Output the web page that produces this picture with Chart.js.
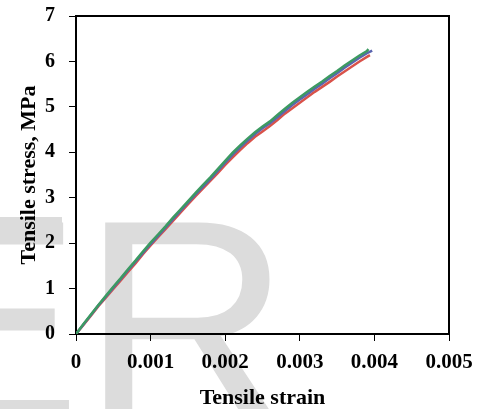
<!DOCTYPE html>
<html>
<head>
<meta charset="utf-8">
<script src="https://cdn.jsdelivr.net/npm/chart.js@4.4.1/dist/chart.umd.min.js"></script>
<style>
html,body{margin:0;padding:0;background:#fff;}
#wrap{width:481px;height:409px;position:relative;}
</style>
</head>
<body>
<div id="wrap"><canvas id="c" width="481" height="409"></canvas></div>
<script>
// Data
const xTickLabels = ['0','0.001','0.002','0.003','0.004','0.005'];
const yTickLabels = ['0','1','2','3','4','5','6','7'];

const greenStrain = [0,0.0001,0.0002,0.0003,0.0004,0.0005,0.0006,0.0007,0.0008,0.0009,0.001,0.0011,0.0012,0.0013,0.0014,0.0015,0.0016,0.0017,0.0018,0.0019,0.002,0.0021,0.0022,0.0023,0.0024,0.0025,0.0026,0.0027,0.0028,0.0029,0.003,0.0031,0.0032,0.0033,0.0034,0.0035,0.0036,0.0037,0.0038,0.0039,0.00392];
const greenStress = [0,0.22,0.43,0.64,0.84,1.04,1.23,1.43,1.62,1.82,2.01,2.19,2.37,2.56,2.74,2.92,3.10,3.28,3.45,3.63,3.81,3.99,4.15,4.30,4.44,4.57,4.68,4.82,4.96,5.09,5.21,5.33,5.45,5.56,5.68,5.79,5.91,6.02,6.13,6.23,6.27];

const redStrain = [0,0.0001,0.0002,0.0003,0.0004,0.0005,0.0006,0.0007,0.0008,0.0009,0.001,0.0011,0.0012,0.0013,0.0014,0.0015,0.0016,0.0017,0.0018,0.0019,0.002,0.0021,0.0022,0.0023,0.0024,0.0025,0.0026,0.0027,0.0028,0.0029,0.003,0.0031,0.0032,0.0033,0.0034,0.0035,0.0036,0.0037,0.0038,0.0039,0.00394];
const redStress = [0,0.20,0.40,0.61,0.80,0.99,1.18,1.37,1.56,1.76,1.95,2.13,2.31,2.49,2.67,2.85,3.03,3.20,3.37,3.54,3.72,3.89,4.05,4.20,4.34,4.46,4.58,4.71,4.85,4.97,5.09,5.21,5.33,5.44,5.55,5.67,5.78,5.89,6.00,6.10,6.14];

const blueStrain = [0,0.0001,0.0002,0.0003,0.0004,0.0005,0.0006,0.0007,0.0008,0.0009,0.001,0.0011,0.0012,0.0013,0.0014,0.0015,0.0016,0.0017,0.0018,0.0019,0.002,0.0021,0.0022,0.0023,0.0024,0.0025,0.0026,0.0027,0.0028,0.0029,0.003,0.0031,0.0032,0.0033,0.0034,0.0035,0.0036,0.0037,0.0038,0.0039,0.00397];
const blueStress = [0,0.21,0.42,0.63,0.82,1.02,1.21,1.41,1.60,1.79,1.98,2.16,2.34,2.53,2.71,2.89,3.07,3.24,3.41,3.59,3.77,3.95,4.11,4.26,4.40,4.53,4.64,4.77,4.91,5.04,5.16,5.28,5.40,5.51,5.63,5.74,5.86,5.97,6.08,6.18,6.24];

function pts(xs, ys){ return xs.map((x,i)=>({x:x,y:ys[i]})); }

const bgPlugin = {
  id:'bg',
  beforeDraw(chart){
    const ctx = chart.ctx;
    ctx.save();
    ctx.fillStyle = '#ffffff';
    ctx.fillRect(0,0,chart.width,chart.height);
    ctx.fillStyle = '#dcdcdc';
    ctx.font = "290px 'Liberation Sans', Arial, sans-serif";
    ctx.textBaseline = 'alphabetic';
    ctx.textAlign = 'left';
    ctx.fillText('ER', -112, 422);
    // top arm of the partially visible watermark letter
    ctx.fillRect(0, 217, 62, 24);
    ctx.restore();
  }
};
const framePlugin = {
  id:'frame',
  afterDatasetsDraw(chart){
    const a = chart.chartArea, ctx = chart.ctx;
    ctx.save();
    ctx.strokeStyle = '#000';
    ctx.lineWidth = 2;
    ctx.beginPath();
    ctx.moveTo(a.left, a.top);
    ctx.lineTo(a.right, a.top);
    ctx.lineTo(a.right, a.bottom);
    ctx.stroke();
    ctx.restore();
  }
};

const serif = "'Liberation Serif', 'Times New Roman', serif";

new Chart(document.getElementById('c'), {
  type:'line',
  data:{
    datasets:[
      {label:'S3', data:pts(greenStrain, greenStress), borderColor:'#3c9a62', borderWidth:2.5, pointRadius:0, tension:0, fill:false},
      {label:'S1', data:pts(blueStrain, blueStress), borderColor:'#5a64ae', borderWidth:2.5, pointRadius:0, tension:0, fill:false},
      {label:'S2', data:pts(redStrain, redStress), borderColor:'#d9524a', borderWidth:2.5, pointRadius:0, tension:0, fill:false}
    ]
  },
  options:{
    responsive:false,
    animation:false,
    layout:{padding:{left:0,right:32,top:16,bottom:0}},
    plugins:{legend:{display:false}, tooltip:{enabled:false}},
    scales:{
      x:{
        type:'linear', min:0, max:0.005,
        afterFit(s){ s.height = 75; s.paddingLeft = 0; s.paddingRight = 0; },
        afterBuildTicks(s){ s.ticks = xTickLabels.map(v=>({value:parseFloat(v)})); },
        ticks:{ callback:(v,i)=>xTickLabels[i], color:'#000', font:{family:serif, size:21, weight:'bold'}, padding:9, maxRotation:0, autoSkip:false },
        grid:{ drawOnChartArea:false, drawTicks:true, tickLength:7, color:'#000', lineWidth:1 },
        border:{ display:true, color:'#000', width:2 },
        title:{ display:true, text:'Tensile strain', color:'#000', font:{family:serif, size:22, weight:'bold', lineHeight:1}, padding:{top:0,bottom:0} }
      },
      y:{
        type:'linear', min:0, max:7,
        afterFit(s){ s.width = 76; s.paddingTop = 0; s.paddingBottom = 0; },
        afterBuildTicks(s){ s.ticks = yTickLabels.map(v=>({value:parseFloat(v)})); },
        ticks:{ callback:(v,i)=>yTickLabels[i], color:'#000', font:{family:serif, size:20, weight:'bold'}, padding:14 },
        grid:{ drawOnChartArea:false, drawTicks:true, tickLength:7, color:'#000', lineWidth:1 },
        border:{ display:true, color:'#000', width:2 },
        title:{ display:true, text:'Tensile stress, MPa', color:'#000', font:{family:serif, size:22, weight:'bold'}, padding:{top:16,bottom:0} }
      }
    }
  },
  plugins:[bgPlugin, framePlugin]
});
</script>
</body>
</html>
